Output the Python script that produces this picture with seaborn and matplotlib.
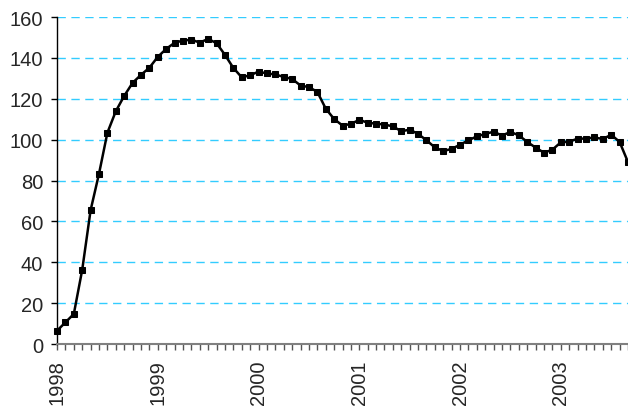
import matplotlib
matplotlib.use("Agg")
import matplotlib.pyplot as plt
import seaborn as sns
import pandas as pd

years = ["1998", "1999", "2000", "2001", "2002", "2003"]
values = [6.5, 10.6, 14.7, 36.3, 65.5, 83.3, 103.4, 113.9, 121.4, 127.8, 131.7, 135.2,
          140.5, 144.4, 147.4, 148.5, 148.9, 147.5, 149.3, 147.2, 141.5, 135.1, 130.5, 131.5,
          133.3, 132.4, 131.9, 130.7, 129.7, 126.5, 125.7, 123.4, 115.2, 110.1, 106.9, 107.7,
          109.7, 108.3, 107.8, 107.4, 106.5, 104.1, 104.9, 102.8, 99.7, 96.2, 94.4, 95.5,
          97.5, 99.7, 101.6, 102.8, 103.9, 102.0, 103.8, 102.1, 98.9, 96.1, 93.6, 95.1,
          98.7, 99.0, 100.5, 100.5, 101.1, 100.3, 102.4, 98.9, 89.0]
months = list(range(len(values)))
yticks = [0, 20, 40, 60, 80, 100, 120, 140, 160]

sns.set_theme(style="white")
plt.rcParams['font.family'] = ['Liberation Sans', 'DejaVu Sans']

df = pd.DataFrame({"month": months, "value": values})

fig = plt.figure(figsize=(6.28, 4.10), dpi=100)
ax = fig.add_axes([0.0908, 0.1585, 0.9092, 0.7975])

for y in yticks[1:]:
    ax.axhline(y, color="#33CCFF", linewidth=1.0, linestyle=(0, (6, 4)), zorder=1)

sns.lineplot(data=df, x="month", y="value", ax=ax, color="black", linewidth=1.8,
             marker="s", markersize=5, markeredgecolor="black", markerfacecolor="black",
             zorder=3)
for ln in ax.lines[-1:]:
    ln.set_clip_on(False)

ax.set_xlim(0, len(values) - 1)
ax.set_ylim(0, 160)
ax.set_xlabel("")
ax.set_ylabel("")

ax.set_xticks(months, minor=True)
ax.set_xticks([12 * i for i in range(len(years))])
ax.set_xticklabels(years, rotation=90, fontsize=14.5)
ax.set_yticks(yticks)
ax.set_yticklabels([str(v) for v in yticks], fontsize=14.5)

ax.tick_params(axis="x", which="both", direction="out", length=4, width=1, color="#555555",
               bottom=True, pad=7)
ax.tick_params(axis="y", which="major", direction="out", length=4, width=1, color="black",
               left=True, pad=6)

for s in ["top", "right"]:
    ax.spines[s].set_visible(False)
ax.spines["left"].set_color("black")
ax.spines["left"].set_linewidth(1.0)
ax.spines["bottom"].set_color("#808080")
ax.spines["bottom"].set_linewidth(1.5)
ax.grid(False)

fig.savefig("out.png", dpi=100)
